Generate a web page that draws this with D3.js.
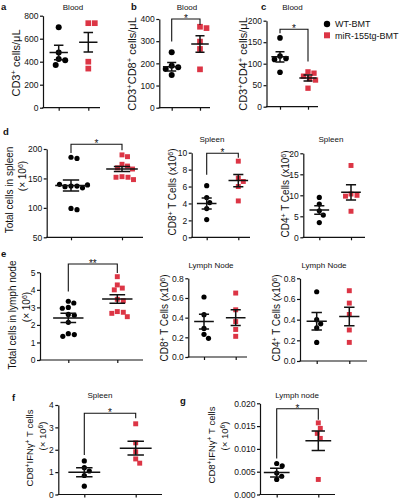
<!DOCTYPE html>
<html><head><meta charset="utf-8">
<script src="https://cdn.jsdelivr.net/npm/d3@7"></script>
<style>
body{margin:0;background:#fff}
svg{display:block}
text{font-family:Arial,"Liberation Sans",sans-serif;fill:#111}
</style>
</head><body>
<svg id="chart" width="400" height="500"></svg>
<script>
// ---------- data ----------
const groups = ["WT-BMT", "miR-155tg-BMT"];
const groupColors = ["#000000", "#dc3545"];

// a: Blood CD3+
const aWT = [700, 481, 423, 412, 371];
const aMiR = [735, 735, 400, 340];
const aMean = [480, 570], aSem = [62, 85];
const aTicks = [0, 200, 400, 600, 800];

// b: Blood CD3+CD8+
const bWT = [250, 189, 182, 174, 147];
const bMiR = [365, 359, 298, 265, 173];
const bMean = [185, 287], bSem = [19, 37];
const bTicks = [0, 100, 200, 300, 400];
const bBracket = [400, 298, 373];

// c: Blood CD3+CD4+
const cWT = [160, 118, 112, 110, 80];
const cMiR = [81, 78, 71, 65, 62, 43];
const cMean = [116, 67], cSem = [12, 7];
const cTicks = [0, 50, 100, 150, 200];
const cBracket = [180, 171, 105];

// d1: total cells in spleen
const d1WT = [186, 184, 137, 137, 136, 134, 140, 139, 99, 97];
const d1MiR = [190, 187, 174, 171, 168, 166, 153, 152, 152, 148];
const d1Mean = [138, 166], d1Sem = [9.5, 4.3];
const d1Ticks = [50, 100, 150, 200];
const d1Bracket = [208, 193, 198];

// d2: spleen CD8+
const d2WT = [6.1, 4.7, 4.1, 3.4, 2.1];
const d2MiR = [9.0, 7.0, 6.6, 6.0, 4.3];
const d2Mean = [4.0, 6.7], d2Sem = [0.65, 0.73];
const d2Ticks = [0, 2, 4, 6, 8, 10];
const d2Bracket = [9.93, 7.4, 9.4];

// d3: spleen CD4+
const d3WT = [9.5, 7.9, 6.3, 5.3, 3.5];
const d3MiR = [17.1, 10.3, 10.0, 9.8, 6.2];
const d3Mean = [6.5, 10.7], d3Sem = [1.0, 1.8];
const d3Ticks = [0, 5, 10, 15, 20];

// e1: total cells in lymph node
const e1WT = [3.35, 3.25, 3.0, 2.95, 2.6, 2.55, 2.15, 1.5, 1.45, 1.35];
const e1MiR = [4.75, 4.28, 4.1, 4.0, 3.46, 3.38, 2.76, 2.72, 2.66, 2.47];
const e1Mean = [2.4, 3.48], e1Sem = [0.26, 0.24];
const e1Ticks = [0, 1, 2, 3, 4, 5];
const e1Bracket = [5.47, 3.9, 4.96];

// e2: lymph node CD8+
const e2WT = [0.61, 0.43, 0.29, 0.23, 0.19];
const e2MiR = [0.65, 0.48, 0.36, 0.28, 0.21];
const e2Mean = [0.36, 0.40], e2Sem = [0.075, 0.08];
const e2Ticks = [0, 0.2, 0.4, 0.6, 0.8];

// e3: lymph node CD4+
const e3WT = [0.67, 0.40, 0.36, 0.32, 0.18];
const e3MiR = [0.68, 0.56, 0.45, 0.30, 0.18];
const e3Mean = [0.385, 0.43], e3Sem = [0.085, 0.09];
const e3Ticks = [0, 0.2, 0.4, 0.6, 0.8];

// f: spleen CD8+IFNg+
const fWT = [1.5, 1.2, 1.05, 0.85, 0.37];
const fMiR = [3.16, 2.31, 1.91, 1.59, 1.4];
const fMean = [0.99, 2.07], fSem = [0.2, 0.31];
const fTicks = [0, 1, 2, 3, 4];
const fBracket = [3.63, 1.76, 3.41];

// g: lymph node CD8+IFNg+
const gWT = [0.0068, 0.0063, 0.0047, 0.0040, 0.0033];
const gMiR = [0.0157, 0.0145, 0.0134, 0.0123, 0.0033];
const gMean = [0.0048, 0.0118], gSem = [0.00095, 0.00215];
const gTicks = [0, 0.005, 0.010, 0.015, 0.020];
const gBracket = [0.0188, 0.0079, 0.0164];

// ---------- layout ----------
const panels = [
  {letter:"a", lx:1, ly:10, wt:aWT, miR:aMiR, mean:aMean, sem:aSem, ticks:aTicks, fmt:"d",
   x0:43, t1:58.7, t2:88.3, x1:100, top:15.7, bottom:107.7, r:3, title:"Blood", tx:73, ty:10,
   ylab:[{x:16, y:63, s:"CD3^+^ cells/μL", size:11}]},
  {letter:"b", lx:131, ly:10, wt:bWT, miR:bMiR, mean:bMean, sem:bSem, ticks:bTicks, fmt:"d", br:bBracket, star:"*",
   x0:159.3, t1:171.7, t2:200, x1:210, top:19, bottom:107.7, r:3, title:"Blood", tx:187, ty:10,
   ylab:[{x:132, y:64, s:"CD3^+^CD8^+^ cells/μL", size:11}]},
  {letter:"c", lx:261, ly:10, wt:cWT, miR:cMiR, mean:cMean, sem:cSem, ticks:cTicks, fmt:"d", br:cBracket, star:"*",
   x0:266.5, t1:280, t2:308, x1:318, top:20.7, bottom:106.7, r:2.8, title:"Blood", tx:292.5, ty:10,
   ylab:[{x:243, y:64, s:"CD3^+^CD4^+^ cells/μL", size:11}]},
  {letter:"d", lx:3, ly:135, wt:d1WT, miR:d1MiR, mean:d1Mean, sem:d1Sem, ticks:d1Ticks, fmt:"d", br:d1Bracket, star:"*",
   x0:46.7, t1:71, t2:122, x1:143, top:149, bottom:237.3, r:2.6,
   ylab:[{x:9, y:190, s:"Total cells in spleen", size:10}, {x:22, y:176, s:"(× 10^6^)", size:10}]},
  {wt:d2WT, miR:d2MiR, mean:d2Mean, sem:d2Sem, ticks:d2Ticks, fmt:"d", br:d2Bracket, star:"*",
   x0:191.7, t1:206.7, t2:238.3, x1:250, top:152.7, bottom:237.3, r:2.6, title:"Spleen", tx:212, ty:142,
   ylab:[{x:172, y:192, s:"CD8^+^ T Cells (x10^6^)", size:10}]},
  {wt:d3WT, miR:d3MiR, mean:d3Mean, sem:d3Sem, ticks:d3Ticks, fmt:"d",
   x0:303.3, t1:319.3, t2:351, x1:365, top:153.3, bottom:237.3, r:2.6, title:"Spleen", tx:331, ty:142,
   ylab:[{x:285, y:194, s:"CD4^+^ T Cells (x10^6^)", size:10}]},
  {letter:"e", lx:1, ly:257, wt:e1WT, miR:e1MiR, mean:e1Mean, sem:e1Sem, ticks:e1Ticks, fmt:"d", br:e1Bracket, star:"**",
   x0:40, t1:68.3, t2:117.3, x1:143, top:272.3, bottom:360, r:2.6,
   ylab:[{x:12, y:315, s:"Total cells in lymph node", size:10}, {x:26, y:307, s:"(× 10^6^)", size:10}]},
  {wt:e2WT, miR:e2MiR, mean:e2Mean, sem:e2Sem, ticks:e2Ticks, fmt:".1f",
   x0:188.3, t1:204, t2:235.7, x1:247, top:278.3, bottom:357, r:2.6, title:"Lymph Node", tx:211, ty:268,
   ylab:[{x:164, y:318, s:"CD8^+^ T Cells (x10^6^)", size:10}]},
  {wt:e3WT, miR:e3MiR, mean:e3Mean, sem:e3Sem, ticks:e3Ticks, fmt:".1f",
   x0:300, t1:316.7, t2:349.3, x1:367, top:278.3, bottom:361, r:2.6, title:"Lymph Node", tx:324, ty:268,
   ylab:[{x:276, y:318, s:"CD4^+^ T Cells (x10^6^)", size:10}]},
  {letter:"f", lx:12, ly:401, wt:fWT, miR:fMiR, mean:fMean, sem:fSem, ticks:fTicks, fmt:"d", br:fBracket, star:"*",
   x0:58.3, t1:84.3, t2:135.7, x1:162, top:405, bottom:494.5, r:2.6, title:"Spleen", tx:100, ty:398,
   ylab:[{x:30, y:448, s:"CD8^+^IFNγ^+^ T cells", size:9.5}, {x:43, y:436, s:"(× 10^6^)", size:9.5}]},
  {letter:"g", lx:180, ly:404, wt:gWT, miR:gMiR, mean:gMean, sem:gSem, ticks:gTicks, fmt:".3f", br:gBracket, star:"*",
   x0:260, t1:276.7, t2:318.3, x1:335, top:403.3, bottom:494.5, r:2.6, title:"Lymph node", tx:297, ty:398,
   ylab:[{x:212, y:445, s:"CD8^+^IFNγ^+^ T cells", size:9.5}, {x:225, y:436, s:"(× 10^6^)", size:9.5}]}
];

const svg = d3.select("#chart");

function richText(sel, s) {
  s.split("^").forEach((part, i) => {
    if (!part) return;
    const t = sel.append("tspan").text(part);
    if (i % 2 === 1) t.attr("baseline-shift", "super").attr("font-size", "70%");
  });
}

function swarm(vals, cx, y, md) {
  const placed = [];
  const cands = [0];
  for (let k = 1; k < 80; k++) cands.push(k * 0.5, -k * 0.5);
  return vals.map(v => {
    const py = y(v);
    let best = 0;
    for (const dx of cands) {
      if (placed.every(p => Math.hypot(p.x - (cx + dx), p.y - py) >= md)) { best = dx; break; }
    }
    const pt = {x: cx + best, y: py};
    placed.push(pt);
    return pt;
  });
}

panels.forEach(p => {
  const g = svg.append("g");
  const y = d3.scaleLinear().domain([p.ticks[0], p.ticks[p.ticks.length - 1]]).range([p.bottom, p.top]);
  const x = d3.scalePoint().domain(groups).range([p.t1, p.t2]);
  const spacing = p.t2 - p.t1;

  // y axis
  const ya = g.append("g").attr("transform", `translate(${p.x0},0)`)
    .call(d3.axisLeft(y).tickValues(p.ticks).tickSize(3).tickSizeOuter(0).tickPadding(1.5).tickFormat(d3.format(p.fmt)));
  ya.selectAll("path,line").attr("stroke", "#111").attr("stroke-width", 1.2);
  ya.selectAll("text").attr("font-size", 8.5).attr("fill", "#222").style("font-family", "Arial, 'Liberation Sans', sans-serif");

  // x axis
  const xa = g.append("g").attr("transform", `translate(0,${p.bottom})`)
    .call(d3.axisBottom(x).tickSize(3).tickSizeOuter(0).tickFormat(""));
  xa.select(".domain").remove();
  xa.selectAll("line").attr("stroke", "#111").attr("stroke-width", 1.2);
  g.append("line").attr("x1", p.x0 - 0.6).attr("x2", p.x1).attr("y1", p.bottom).attr("y2", p.bottom)
    .attr("stroke", "#111").attr("stroke-width", 1.2);

  // points
  const md = 2 * p.r + 0.5;
  const wtPts = swarm(p.wt, x(groups[0]), y, md);
  const miPts = swarm(p.miR, x(groups[1]), y, md);
  g.selectAll("circle.wt").data(wtPts).join("circle")
    .attr("cx", d => d.x).attr("cy", d => d.y).attr("r", p.r).attr("fill", groupColors[0]);
  const s = p.r * 1.9;
  g.selectAll("rect.mi").data(miPts).join("rect")
    .attr("x", d => d.x - s / 2).attr("y", d => d.y - s / 2).attr("width", s).attr("height", s)
    .attr("fill", groupColors[1]);

  // mean +/- SEM
  groups.forEach((grp, i) => {
    const cx = x(grp), mh = spacing * 0.31, ch = spacing * 0.16;
    const m = p.mean[i], e = p.sem[i];
    const path = `M${cx - mh},${y(m)}H${cx + mh}M${cx},${y(m + e)}V${y(m - e)}M${cx - ch},${y(m + e)}H${cx + ch}M${cx - ch},${y(m - e)}H${cx + ch}`;
    g.append("path").attr("d", path).attr("stroke", "#111").attr("stroke-width", 1.5).attr("fill", "none");
  });

  // significance bracket
  if (p.br) {
    const [top, le, re] = p.br;
    g.append("path").attr("d", `M${p.t1},${y(le)}V${y(top)}H${p.t2}V${y(re)}`)
      .attr("stroke", "#111").attr("stroke-width", 1.1).attr("fill", "none");
    g.append("text").attr("x", (p.t1 + p.t2) / 2).attr("y", y(top) + 3)
      .attr("text-anchor", "middle").attr("font-size", 10).text(p.star);
  }

  // title
  if (p.title) {
    g.append("text").attr("x", p.tx).attr("y", p.ty).attr("text-anchor", "middle")
      .attr("font-size", 8).text(p.title);
  }

  // y labels
  p.ylab.forEach(l => {
    const t = g.append("text").attr("transform", `translate(${l.x},${l.y}) rotate(-90)`)
      .attr("text-anchor", "middle").attr("dy", "0.35em").attr("font-size", l.size);
    richText(t, l.s);
  });

  // panel letter
  if (p.letter) {
    g.append("text").attr("x", p.lx).attr("y", p.ly).attr("font-size", 9.5)
      .attr("font-weight", "bold").text(p.letter);
  }
});

// legend
const leg = svg.append("g");
groups.forEach((grp, i) => {
  const yy = 24 + i * 11.3;
  if (i === 0) leg.append("circle").attr("cx", 327).attr("cy", yy).attr("r", 3.2).attr("fill", groupColors[0]);
  else leg.append("rect").attr("x", 327 - 3).attr("y", yy - 3).attr("width", 6).attr("height", 6).attr("fill", groupColors[1]);
  leg.append("text").attr("x", 335).attr("y", yy + 3.3).attr("font-size", 9).text(grp);
});
</script>
</body></html>
